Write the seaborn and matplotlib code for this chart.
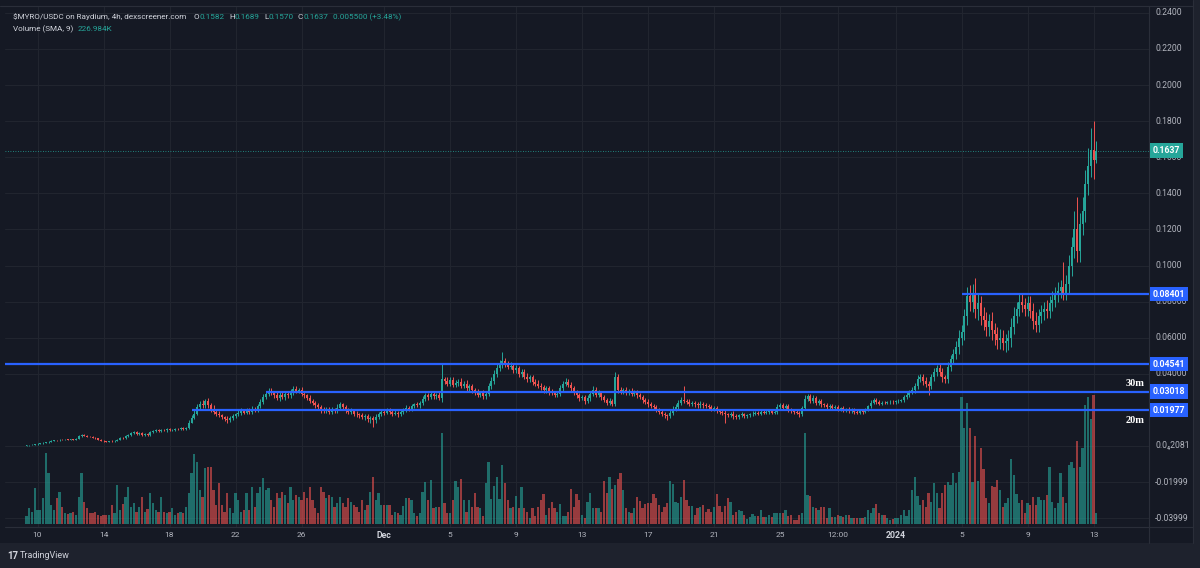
import numpy as np
import pandas as pd
import matplotlib
matplotlib.use("Agg")
import matplotlib.pyplot as plt
import matplotlib.transforms as mtransforms
from matplotlib.patches import Rectangle
import seaborn as sns

# ---------------- data (prices in units of 0.0001 USDC, 4h candles from Nov 9 08:00) ----------------
first_open_e4 = 2
close_e4 = [
    3, 5, 7, 9, 12, 15, 18, 20, 24, 30,
    33, 31, 35, 33, 36, 34, 37, 35, 40, 55,
    60, 56, 52, 50, 46, 42, 35, 30, 26, 24,
    27, 25, 28, 35, 45, 42, 55, 60, 70, 76,
    68, 72, 62, 66, 60, 75, 85, 88, 82, 90,
    86, 92, 88, 90, 95, 92, 98, 94, 100, 130,
    155, 180, 215, 235, 225, 250, 225, 205, 190, 180,
    170, 160, 150, 145, 155, 165, 175, 185, 195, 185,
    200, 190, 205, 200, 220, 245, 270, 290, 305, 295,
    280, 265, 285, 270, 290, 280, 300, 315, 305, 310,
    290, 280, 265, 250, 240, 225, 215, 200, 195, 205,
    190, 200, 195, 210, 230, 215, 200, 190, 195, 180,
    175, 170, 160, 165, 150, 155, 145, 160, 175, 190,
    185, 200, 190, 180, 185, 175, 190, 200, 210, 205,
    220, 230, 225, 240, 260, 280, 270, 290, 275, 285,
    265, 370, 360, 345, 365, 340, 350, 355, 335, 345,
    320, 330, 310, 300, 285, 295, 275, 290, 330, 360,
    400, 430, 450, 470, 455, 440, 445, 420, 430, 400,
    410, 385, 370, 380, 355, 345, 335, 325, 310, 320,
    300, 295, 285, 290, 320, 345, 355, 340, 320, 300,
    280, 265, 270, 250, 265, 290, 310, 285, 295, 270,
    255, 240, 250, 235, 380, 310, 300, 310, 295, 305,
    290, 300, 280, 270, 255, 245, 230, 220, 215, 200,
    190, 180, 170, 165, 185, 205, 215, 240, 255, 250,
    245, 235, 240, 230, 225, 235, 225, 220, 215, 205,
    210, 195, 190, 185, 175, 170, 180, 165, 160, 170,
    175, 165, 170, 175, 180, 185, 180, 190, 185, 190,
    195, 185, 190, 215, 225, 210, 220, 200, 195, 190,
    185, 175, 210, 260, 275, 250, 265, 240, 250, 230,
    225, 215, 220, 210, 215, 205, 210, 200, 205, 195,
    200, 190, 185, 195, 190, 200, 220, 240, 255, 245,
    235, 240, 238, 242, 245, 243, 248, 250, 255, 270,
    285, 300, 310, 330, 370, 380, 360, 345, 335, 380,
    410, 430, 410, 380, 370, 440, 480, 510, 550, 600,
    630, 720, 830, 800, 840, 760, 790, 720, 700, 660,
    690, 640, 620, 590, 600, 570, 580, 600, 660, 720,
    760, 800, 780, 760, 790, 750, 690, 670, 720, 740,
    760, 750, 790, 810, 840, 860, 880, 850, 900, 1000,
    1100, 1200, 1080, 1230, 1300, 1450, 1550, 1640, 1582, 1637,
]
upper_wick_e4 = [
    2, 2, 3, 2, 3, 2, 4, 3, 2, 3,
    3, 2, 4, 3, 2, 3, 2, 4, 3, 6,
    5, 4, 3, 3, 4, 3, 2, 3, 4, 3,
    3, 4, 5, 6, 4, 7, 5, 6, 8, 6,
    5, 6, 5, 6, 5, 8, 6, 5, 7, 6,
    5, 6, 5, 6, 7, 5, 6, 5, 7, 15,
    15, 20, 20, 15, 20, 12, 15, 15, 20, 10,
    12, 10, 8, 15, 10, 12, 10, 12, 15, 10,
    12, 10, 15, 10, 12, 15, 20, 15, 15, 18,
    12, 20, 15, 12, 15, 12, 18, 15, 20, 12,
    15, 12, 10, 15, 10, 12, 12, 10, 15, 12,
    10, 15, 12, 25, 15, 10, 12, 10, 15, 10,
    12, 10, 15, 10, 12, 10, 10, 15, 12, 10,
    12, 10, 12, 10, 12, 10, 12, 10, 15, 10,
    12, 10, 15, 10, 15, 12, 15, 10, 12, 10,
    15, 90, 15, 20, 15, 20, 15, 15, 20, 15,
    20, 15, 15, 12, 15, 12, 15, 15, 20, 20,
    20, 25, 25, 50, 20, 15, 20, 15, 20, 15,
    15, 15, 20, 15, 15, 15, 20, 15, 15, 12,
    15, 15, 12, 15, 20, 15, 20, 15, 15, 15,
    12, 15, 12, 15, 15, 15, 20, 15, 15, 12,
    15, 12, 15, 12, 30, 20, 15, 12, 15, 12,
    15, 12, 12, 15, 12, 12, 15, 12, 10, 12,
    10, 12, 10, 10, 12, 15, 15, 15, 15, 80,
    12, 15, 12, 10, 12, 15, 10, 12, 10, 12,
    10, 12, 10, 10, 12, 10, 10, 12, 10, 10,
    12, 10, 10, 10, 12, 10, 10, 12, 10, 10,
    10, 10, 10, 15, 12, 15, 12, 10, 10, 10,
    10, 10, 10, 20, 15, 12, 15, 12, 12, 10,
    10, 12, 10, 10, 10, 10, 8, 10, 8, 10,
    8, 10, 8, 10, 8, 10, 8, 15, 12, 10,
    8, 8, 8, 8, 8, 8, 8, 8, 8, 10,
    12, 12, 15, 20, 25, 20, 20, 20, 15, 20,
    20, 20, 25, 20, 15, 25, 25, 30, 30, 40,
    40, 40, 50, 60, 60, 90, 50, 40, 50, 40,
    40, 50, 40, 40, 50, 40, 40, 40, 50, 50,
    40, 50, 40, 40, 40, 40, 40, 50, 40, 40,
    40, 50, 40, 50, 40, 50, 40, 140, 50, 60,
    60, 100, 180, 60, 80, 80, 100, 120, 160, 52,
]
lower_wick_e4 = [
    1, 1, 2, 1, 2, 1, 2, 2, 1, 2,
    2, 2, 2, 2, 2, 2, 2, 2, 3, 3,
    3, 3, 3, 2, 3, 2, 2, 2, 3, 2,
    2, 3, 3, 3, 4, 4, 4, 5, 5, 6,
    5, 5, 6, 5, 5, 6, 5, 6, 5, 6,
    5, 6, 5, 5, 6, 5, 5, 6, 5, 5,
    5, 8, 10, 10, 12, 12, 12, 15, 12, 12,
    12, 10, 12, 15, 12, 10, 12, 10, 12, 10,
    10, 12, 10, 12, 10, 12, 10, 12, 15, 12,
    15, 12, 15, 12, 15, 12, 12, 15, 12, 12,
    12, 15, 12, 12, 15, 12, 12, 15, 12, 10,
    12, 10, 12, 10, 12, 12, 15, 12, 12, 15,
    12, 15, 12, 15, 15, 20, 40, 15, 12, 10,
    12, 10, 12, 15, 10, 12, 10, 10, 12, 10,
    10, 12, 10, 12, 15, 12, 15, 12, 15, 15,
    12, 20, 15, 15, 15, 15, 15, 15, 15, 15,
    15, 15, 15, 15, 15, 15, 15, 15, 15, 15,
    15, 15, 15, 20, 15, 15, 15, 15, 15, 15,
    15, 15, 15, 15, 15, 15, 15, 15, 15, 15,
    15, 15, 15, 15, 12, 15, 12, 15, 15, 15,
    15, 15, 12, 15, 12, 15, 15, 12, 15, 15,
    12, 15, 12, 15, 12, 15, 12, 12, 15, 12,
    12, 15, 12, 12, 15, 12, 12, 12, 15, 12,
    12, 15, 15, 20, 12, 12, 12, 12, 12, 12,
    12, 12, 12, 12, 12, 12, 12, 12, 12, 12,
    12, 12, 12, 15, 45, 12, 12, 15, 12, 12,
    10, 12, 10, 10, 10, 10, 10, 10, 10, 10,
    10, 10, 10, 10, 10, 10, 10, 10, 10, 10,
    10, 15, 10, 10, 12, 12, 12, 12, 12, 12,
    10, 10, 10, 10, 10, 10, 10, 10, 10, 10,
    10, 10, 10, 10, 10, 8, 8, 10, 10, 10,
    8, 8, 8, 8, 8, 8, 8, 8, 8, 10,
    10, 12, 12, 15, 15, 15, 20, 20, 55, 20,
    20, 20, 20, 25, 20, 20, 25, 25, 30, 40,
    40, 40, 50, 50, 60, 50, 60, 50, 60, 50,
    50, 50, 60, 50, 50, 40, 50, 50, 50, 40,
    40, 40, 40, 40, 40, 40, 40, 40, 40, 40,
    40, 40, 40, 40, 40, 40, 40, 40, 40, 50,
    60, 60, 60, 60, 60, 60, 60, 60, 102, 12,
]
volume_k = [
    24, 48, 36, 108, 42, 42, 78, 213, 153, 57,
    42, 78, 96, 51, 33, 30, 33, 36, 27, 81,
    153, 66, 48, 33, 33, 36, 27, 24, 27, 27,
    27, 57, 33, 117, 42, 60, 81, 111, 51, 63,
    36, 51, 81, 36, 45, 93, 63, 42, 36, 81,
    36, 33, 36, 48, 27, 33, 36, 33, 51, 93,
    153, 210, 186, 102, 81, 168, 171, 171, 102, 57,
    123, 57, 36, 93, 48, 33, 93, 72, 36, 42,
    93, 42, 111, 51, 93, 111, 138, 102, 108, 72,
    51, 93, 78, 96, 87, 63, 111, 72, 87, 81,
    72, 96, 78, 111, 72, 48, 33, 111, 96, 78,
    87, 81, 51, 63, 81, 63, 51, 78, 66, 57,
    51, 36, 72, 42, 57, 96, 141, 72, 93, 57,
    57, 57, 57, 27, 36, 33, 27, 54, 78, 78,
    72, 33, 24, 33, 96, 126, 72, 132, 48, 51,
    51, 273, 63, 33, 33, 72, 129, 111, 135, 72,
    36, 72, 51, 93, 51, 48, 24, 123, 186, 75,
    114, 141, 75, 177, 123, 72, 48, 51, 84, 48,
    111, 48, 36, 18, 48, 24, 51, 72, 90, 27,
    48, 66, 48, 36, 60, 24, 24, 36, 105, 51,
    90, 72, 27, 18, 66, 93, 48, 48, 48, 36,
    129, 93, 141, 105, 117, 135, 153, 102, 48, 36,
    33, 48, 81, 69, 48, 60, 63, 63, 90, 78,
    57, 36, 51, 63, 129, 120, 66, 63, 81, 132,
    72, 54, 54, 27, 48, 51, 57, 36, 45, 36,
    51, 90, 54, 36, 54, 78, 66, 27, 36, 42,
    39, 27, 15, 21, 30, 24, 24, 42, 21, 21,
    27, 21, 33, 33, 33, 33, 42, 24, 27, 12,
    12, 27, 33, 273, 87, 84, 51, 48, 42, 51,
    51, 18, 48, 21, 21, 27, 24, 21, 27, 27,
    18, 18, 18, 18, 18, 21, 42, 33, 48, 60,
    33, 27, 27, 18, 12, 15, 18, 18, 27, 42,
    24, 42, 102, 141, 84, 57, 72, 51, 93, 66,
    123, 93, 48, 93, 117, 126, 117, 153, 123, 156,
    381, 288, 363, 288, 126, 264, 129, 228, 165, 78,
    63, 114, 111, 132, 102, 51, 63, 78, 195, 147,
    90, 63, 72, 33, 63, 57, 81, 57, 81, 72,
    72, 87, 171, 66, 48, 63, 153, 81, 63, 177,
    186, 168, 249, 171, 228, 357, 381, 315, 387, 33,
]

# time axis labels (candle index of each labelled date)
time_tick_idx = [4, 28, 52, 76, 100, 130, 154, 178, 202, 226, 250, 274, 295, 316, 340, 364, 388]
time_tick_labels = ["10", "14", "18", "22", "26", "Dec", "5", "9", "13", "17", "21", "25",
                    "12:00", "2024", "5", "9", "13"]
time_tick_strong = ["Dec", "2024"]

# price scale labels
price_ticks = [0.24, 0.22, 0.20, 0.18, 0.16, 0.14, 0.12, 0.10, 0.08, 0.06, 0.04,
               0.00002081, -0.01998, -0.03998]
price_tick_labels = ["0.2400", "0.2200", "0.2000", "0.1800", "0.1600", "0.1400", "0.1200",
                     "0.1000", "0.08000", "0.06000", "0.04000", "0.0\u20842081",
                     "-0.01999", "-0.03999"]

# horizontal levels drawn on the chart
levels = [0.08401, 0.04541, 0.03018, 0.01977]
level_start_idx = [340, None, 87, 60]
level_tags = ["", "", "30m", "20m"]
last_price = 0.1637

header_ohlc = ["0.1582", "0.1689", "0.1570", "0.1637"]
header_change = "0.005500 (+3.48%)"
volume_sma = "226.984K"

# ---------------- derived candle arrays ----------------
n = min(len(close_e4), len(upper_wick_e4), len(lower_wick_e4), len(volume_k))
idx = np.arange(n)
close = np.array(close_e4[:n], dtype=float) / 1e4
open_ = np.r_[first_open_e4 / 1e4, close[:-1]]
high = np.maximum(open_, close) + np.array(upper_wick_e4[:n]) / 1e4
low = np.minimum(open_, close) - np.array(lower_wick_e4[:n]) / 1e4
vol = np.array(volume_k[:n], dtype=float)
up = close >= open_

# ---------------- style ----------------
GREEN = "#26a69a"
RED = "#ef5350"
BLUE = "#2962ff"
BG = "#151924"
OUTER = "#1e222d"
GRID = "#21252f"
LINE = "#2a2e39"
TXT = "#b2b5be"
HDR = "#d1d4dc"

sns.set_theme(style="dark", rc={"figure.facecolor": OUTER, "axes.facecolor": BG,
                                "savefig.facecolor": OUTER})
plt.rcParams["font.family"] = ["Roboto", "DejaVu Sans"]

W, H = 1200, 568
fig = plt.figure(figsize=(W / 100, H / 100), dpi=100)


def fx(x):
    return x / W


def fy(y):
    return 1 - y / H


# widget background
fig.add_artist(Rectangle((fx(0), fy(543)), fx(1193), 543 / H, transform=fig.transFigure,
                         facecolor=BG, edgecolor="none", zorder=-5))

rect = [fx(5), fy(527), (1149 - 5) / W, (527 - 6) / H]
axv = fig.add_axes(rect, label="volume")
ax = fig.add_axes(rect, label="price")
ax.patch.set_alpha(0)
axv.set_facecolor(BG)

XLIM = ((5 - 26.5) / 2.75, (1149 - 26.5) / 2.75)
YLIM = ((446 - 527) / 1805, (446 - 6) / 1805)

# volume bars (seaborn)
df = pd.DataFrame({"idx": idx, "volume": vol, "dir": np.where(up, "up", "down")})
sns.barplot(data=df, x="idx", y="volume", hue="dir", hue_order=["up", "down"],
            palette={"up": GREEN, "down": RED}, native_scale=True, dodge=False,
            saturation=1, alpha=0.6, width=0.75, errorbar=None, legend=False,
            linewidth=0, ax=axv)
axv.set_xlim(*XLIM)
axv.set_ylim(-9, 1554)

ax.set_xlim(*XLIM)
ax.set_ylim(*YLIM)

# grid (behind the volume bars)
blend_h = mtransforms.blended_transform_factory(axv.transAxes, ax.transData)
for p in price_ticks:
    axv.plot([0, 1], [p, p], transform=blend_h, color=GRID, lw=0.8, zorder=0)
for t in time_tick_idx:
    axv.axvline(t, color=GRID, lw=0.8, zorder=0)

# candles
colors = np.where(up, GREEN, RED)
ax.vlines(idx, low, high, colors=colors, linewidth=0.7, zorder=3)
body = np.maximum(np.abs(close - open_), 0.00025)
ax.bar(idx, body, bottom=np.minimum(open_, close), width=0.72, color=colors,
       linewidth=0, zorder=4)

# current price dotted line
ax.axhline(last_price, color=GREEN, lw=0.6, ls=(0, (1, 2)), zorder=2)

# levels
for lv, st, tag in zip(levels, level_start_idx, level_tags):
    x0 = XLIM[0] if st is None else st
    ax.plot([x0, XLIM[1]], [lv, lv], color=BLUE, lw=1.6, zorder=6, solid_capstyle="butt")
    if tag:
        off = 6 if tag == "30m" else -7
        ax.annotate(tag, xy=(XLIM[1], lv), xytext=(-3, off), textcoords="offset points",
                    ha="right", va="center", color="white", fontsize=7.5,
                    family=["Liberation Serif", "DejaVu Serif"], weight="bold", zorder=7,
                    annotation_clip=False)

for a in (ax, axv):
    a.set_xticks([])
    a.set_yticks([])
    a.set_xlabel("")
    a.set_ylabel("")
    for s in a.spines.values():
        s.set_visible(False)

# price scale labels
blend_p = mtransforms.blended_transform_factory(fig.transFigure, ax.transData)
for p, lab in zip(price_ticks, price_tick_labels):
    fig.text(fx(1155), p, lab, transform=blend_p, ha="left", va="center",
             color=TXT, fontsize=6.2)
for lv in levels:
    fig.text(fx(1152.5), lv, f"{lv:.5f}", transform=blend_p, ha="left", va="center",
             color="white", fontsize=6.3, weight="bold", zorder=10,
             bbox=dict(boxstyle="square,pad=0.3", fc=BLUE, ec="none"))
fig.text(fx(1152.5), last_price, f"{last_price:.4f}", transform=blend_p, ha="left",
         va="center", color="white", fontsize=6.3, weight="bold", zorder=10,
         bbox=dict(boxstyle="square,pad=0.3", fc=GREEN, ec="none"))

# time scale labels
blend_t = mtransforms.blended_transform_factory(ax.transData, fig.transFigure)
for t, lab in zip(time_tick_idx, time_tick_labels):
    strong = lab in time_tick_strong
    fig.text(t, fy(535), lab, transform=blend_t, ha="center", va="center",
             color=HDR if strong else TXT, fontsize=6.3 if strong else 6,
             weight="bold" if strong else "normal")

# panel separators
fig.add_artist(plt.Line2D([fx(1149), fx(1149)], [fy(6), fy(543)], transform=fig.transFigure,
                          color=LINE, lw=0.8))
fig.add_artist(plt.Line2D([fx(5), fx(1193)], [fy(527), fy(527)], transform=fig.transFigure,
                          color=LINE, lw=0.8))
fig.add_artist(plt.Line2D([fx(0), fx(1193)], [fy(6), fy(6)], transform=fig.transFigure,
                          color=LINE, lw=0.8))
fig.add_artist(plt.Line2D([fx(1193), fx(1193)], [fy(0), fy(543)], transform=fig.transFigure,
                          color=LINE, lw=0.8))

# header
HFS = 5.9
hy1, hy2 = fy(17), fy(29)
fig.text(fx(13), hy1, "$MYRO/USDC on Raydium, 4h, dexscreener.com", color=HDR,
         fontsize=HFS, va="center")
for lx, key, vx, val in zip([194, 229, 264, 298], ["O", "H", "L", "C"],
                            [199.5, 234.5, 268.5, 303.5], header_ohlc):
    fig.text(fx(lx), hy1, key, color=HDR, fontsize=HFS, va="center")
    fig.text(fx(vx), hy1, val, color=GREEN, fontsize=HFS, va="center")
fig.text(fx(333), hy1, header_change, color=GREEN, fontsize=HFS, va="center")
fig.text(fx(13), hy2, "Volume (SMA, 9)", color=HDR, fontsize=HFS, va="center")
fig.text(fx(78), hy2, volume_sma, color=GREEN, fontsize=HFS, va="center")

# footer
fig.text(fx(7), fy(556), "17", color=HDR, fontsize=7, weight="bold", va="center")
fig.text(fx(20), fy(556), "TradingView", color=HDR, fontsize=6.5, va="center")

fig.savefig("out.png", dpi=100, facecolor=OUTER)
